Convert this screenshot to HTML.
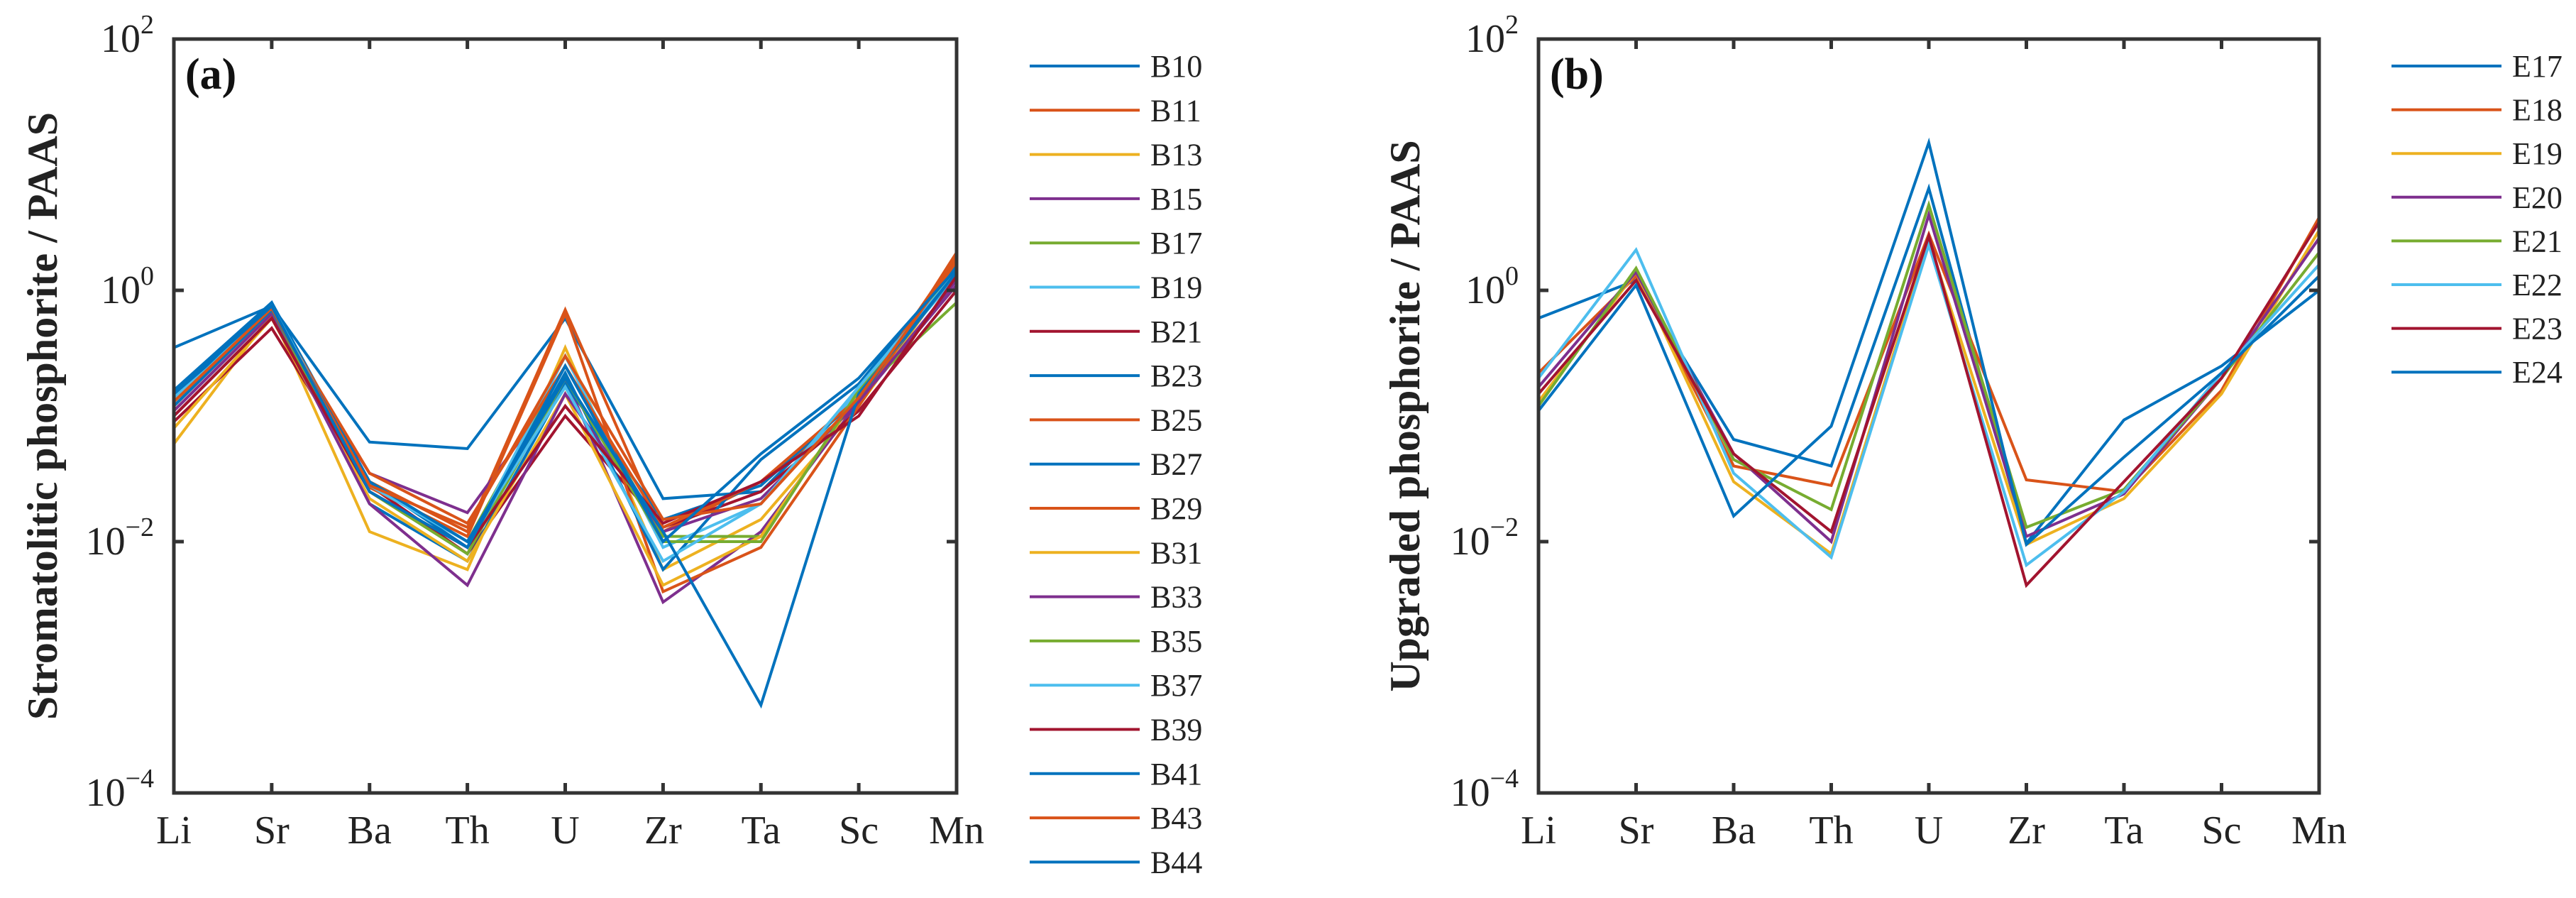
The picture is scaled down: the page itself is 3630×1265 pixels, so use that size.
<!DOCTYPE html>
<html><head><meta charset="utf-8"><style>
html,body{margin:0;padding:0;background:#fff;}
svg{display:block;font-family:"Liberation Serif",serif;}
</style></head><body>
<svg id="fig" width="3630" height="1265" viewBox="0 0 3630 1265" xmlns="http://www.w3.org/2000/svg"></svg>
<script>
const categories = ["Li","Sr","Ba","Th","U","Zr","Ta","Sc","Mn"];
const yTickExponents = [2,0,-2,-4];
const namesA = ["B10","B11","B13","B15","B17","B19","B21","B23","B25","B27","B29","B31","B33","B35","B37","B39","B41","B43","B44"];
const colorsA = ["#0072BD","#D95319","#EDB120","#7E2F8E","#77AC30","#4DBEEE","#A2142F","#0072BD","#D95319","#0072BD","#D95319","#EDB120","#7E2F8E","#77AC30","#4DBEEE","#A2142F","#0072BD","#D95319","#0072BD"];
const valuesA = [
 [0.35,0.75,0.062,0.055,0.6,0.022,0.025,0.15,1.5],
 [0.12,0.7,0.03,0.012,0.7,0.012,0.03,0.12,2],
 [0.06,0.65,0.012,0.006,0.35,0.006,0.015,0.12,1.5],
 [0.1,0.6,0.035,0.017,0.2,0.0033,0.012,0.13,1.1],
 [0.13,0.75,0.03,0.01,0.25,0.011,0.011,0.15,0.8],
 [0.14,0.8,0.025,0.009,0.3,0.009,0.02,0.16,1.3],
 [0.09,0.5,0.028,0.008,0.1,0.013,0.025,0.11,1.0],
 [0.15,0.7,0.02,0.007,0.18,0.015,0.028,0.14,1.4],
 [0.11,0.65,0.027,0.011,0.65,0.004,0.009,0.12,1.8],
 [0.16,0.8,0.03,0.009,0.22,0.006,0.045,0.18,1.6],
 [0.12,0.7,0.035,0.014,0.25,0.013,0.03,0.14,1.9],
 [0.08,0.6,0.022,0.007,0.15,0.0045,0.011,0.15,1.4],
 [0.11,0.65,0.02,0.0045,0.15,0.012,0.022,0.13,1.2],
 [0.12,0.7,0.025,0.008,0.2,0.01,0.01,0.16,1.5],
 [0.13,0.75,0.028,0.01,0.17,0.007,0.02,0.17,1.4],
 [0.1,0.6,0.025,0.009,0.12,0.014,0.03,0.1,1.3],
 [0.12,0.7,0.03,0.01,0.2,0.012,0.0005,0.15,1.4],
 [0.13,0.72,0.028,0.013,0.3,0.015,0.02,0.14,1.7],
 [0.15,0.75,0.025,0.009,0.25,0.01,0.05,0.2,1.5]
];
const namesB = ["E17","E18","E19","E20","E21","E22","E23","E24"];
const colorsB = ["#0072BD","#D95319","#EDB120","#7E2F8E","#77AC30","#4DBEEE","#A2142F","#0072BD"];
const valuesB = [
 [0.6,1.2,0.065,0.04,6.5,0.0097,0.093,0.25,1.0],
 [0.22,1.3,0.04,0.028,2.8,0.031,0.025,0.16,3.8],
 [0.13,1.4,0.03,0.008,2.5,0.0095,0.022,0.15,3],
 [0.17,1.4,0.05,0.01,4,0.011,0.024,0.2,2.6],
 [0.12,1.5,0.045,0.018,4.8,0.013,0.026,0.2,2],
 [0.2,2.1,0.035,0.0075,2.3,0.0065,0.025,0.22,1.6],
 [0.15,1.2,0.05,0.012,2.7,0.0045,0.03,0.2,3.5],
 [0.11,1.1,0.016,0.083,15,0.0095,0.047,0.22,1.3]
];

const NS="http://www.w3.org/2000/svg";
const svg=document.getElementById('fig');
function mk(tag,attrs,parent){const e=document.createElementNS(NS,tag);for(const k in attrs)e.setAttribute(k,attrs[k]);(parent||svg).appendChild(e);return e;}

function panel(cfg){
  const g=mk('g',{});
  
  
  const L=cfg.left,R=cfg.right,T=55,B=1117;
  const xs=i=>L+(R-L)*i/(categories.length-1);
  const ys=v=>T+(2-Math.log10(v))*(B-T)/6;
  const ye=e=>T+(2-e)*(B-T)/6;
  // series
  const sg=mk('g',{},g);
  
  
  cfg.values.forEach((vals,si)=>{
    const p=mk('polyline',{points:vals.map((v,i)=>xs(i)+','+ys(v)).join(' '),fill:'none',stroke:cfg.colors[si],'stroke-width':4,'stroke-linejoin':'miter'},sg);
    
    
  });
  // axes box
  const box=mk('rect',{x:L,y:T,width:R-L,height:B-T,fill:'none',stroke:'#333','stroke-width':5},g);
  
  
  categories.forEach((c,i)=>{
    const x=xs(i);
    const t1=mk('line',{x1:x,y1:B,x2:x,y2:B-14,stroke:'#333','stroke-width':5},g);
    
    
    const t2=mk('line',{x1:x,y1:T,x2:x,y2:T+14,stroke:'#333','stroke-width':5},g);
    
    
    const tx=mk('text',{x:x,y:1188,'font-size':56,'text-anchor':'middle',fill:'#222'},g);
    tx.textContent=c;
    
    
  });
  yTickExponents.forEach(e=>{
    const y=ye(e);
    const a=mk('line',{x1:L,y1:y,x2:L+14,y2:y,stroke:'#333','stroke-width':5},g);
    
    
    const b=mk('line',{x1:R,y1:y,x2:R-14,y2:y,stroke:'#333','stroke-width':5},g);
    
    
    const t=mk('text',{x:L-28,y:y+18,'font-size':56,'text-anchor':'end',fill:'#222'},g);
    
    
    const base=mk('tspan',{},t);base.textContent='10';
    const sup=mk('tspan',{dy:-26,'font-size':38},t);sup.textContent=(e<0?'\u2212':'')+Math.abs(e);
  });
  const yl=mk('text',{x:0,y:0,'font-size':60,'font-weight':'bold','text-anchor':'middle',fill:'#222',transform:'translate('+cfg.ylabelX+','+((T+B)/2)+') rotate(-90)'},g);
  yl.textContent=cfg.ylabel;
  
  
  const pl=mk('text',{x:L+16,y:125,'font-size':62,'font-weight':'bold',fill:'#111'},g);
  pl.textContent=cfg.tag;
  
  
  // legend
  const lg=mk('g',{},g);
  
  
  cfg.names.forEach((n,i)=>{
    const y=93+i*cfg.legStep;
    const ln=mk('line',{x1:cfg.legX,y1:y,x2:cfg.legX+155,y2:y,stroke:cfg.colors[i],'stroke-width':4},lg);
    
    
    const t=mk('text',{x:cfg.legX+170,y:y+15,'font-size':44,fill:'#222'},lg);
    t.textContent=n;
    
    
  });
}
panel({id:'panel-a',left:245,right:1348,values:valuesA,names:namesA,colors:colorsA,ylabel:'Stromatolitic phosphorite / PAAS',ylabelX:80,tag:'(a)',legX:1451,legStep:62.3});
panel({id:'panel-b',left:2168,right:3268,values:valuesB,names:namesB,colors:colorsB,ylabel:'Upgraded phosphorite / PAAS',ylabelX:2000,tag:'(b)',legX:3370,legStep:61.6});
</script>
</body></html>
